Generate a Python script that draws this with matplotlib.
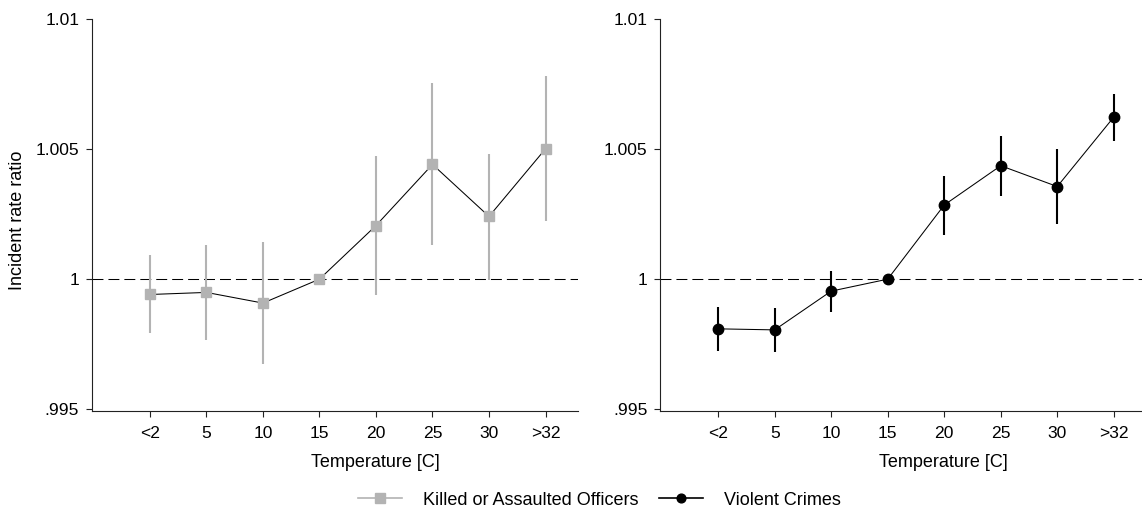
import matplotlib
matplotlib.use("Agg")
import matplotlib.pyplot as plt
from matplotlib.lines import Line2D

plt.rcParams['font.family'] = ['Liberation Sans', 'DejaVu Sans']

# temperature bins
categories = ['<2', '5', '10', '15', '20', '25', '30', '>32']

# killed or assaulted officers (IRR, 95% CI)
officers_irr = [0.99941, 0.99949, 0.99908, 1.0, 1.00206, 1.00441, 1.00241, 1.00501]
officers_lo = [0.99792, 0.99767, 0.99673, 1.0, 0.99938, 1.00132, 0.99997, 1.00222]
officers_hi = [1.00093, 1.00132, 1.00143, 1.0, 1.00474, 1.00754, 1.00482, 1.00781]

# violent crimes (IRR, 95% CI)
violent_irr = [0.99809, 0.99805, 0.99954, 1.0, 1.00285, 1.00436, 1.00356, 1.00623]
violent_lo = [0.99725, 0.99719, 0.99875, 1.0, 1.00170, 1.00320, 1.00212, 1.00532]
violent_hi = [0.99892, 0.99890, 1.00032, 1.0, 1.00398, 1.00551, 1.00501, 1.00713]

yticks = [0.995, 1.0, 1.005, 1.01]
ytick_labels = ['.995', '1', '1.005', '1.01']

gray = '#b3b3b3'
x = list(range(1, len(categories) + 1))

fig = plt.figure(figsize=(11.42, 5.19), dpi=100)
ax1 = fig.add_axes([0.0803, 0.2075, 0.4256, 0.7559])
ax2 = fig.add_axes([0.5779, 0.2075, 0.4256, 0.7559])


def draw_panel(ax, irr, lo, hi, color, marker, ms, show_ylabel):
    # confidence intervals (skip reference bin)
    for xi, l, h in zip(x, lo, hi):
        if h > l:
            ax.plot([xi, xi], [l, h], color=color, lw=1.5, solid_capstyle='butt', zorder=2)
    ax.axhline(1.0, color='black', lw=0.75, ls=(0, (10.5, 4.8)), zorder=1)
    ax.plot(x, irr, color='black', lw=0.75, zorder=3)
    ax.plot(x, irr, ls='none', marker=marker, ms=ms, color=color, mec=color, zorder=4)

    ax.set_xlim(-0.03, 8.57)
    ax.set_ylim(0.99492, 1.01)
    ax.set_xticks(x)
    ax.set_xticklabels(categories)
    ax.set_yticks(yticks)
    ax.set_yticklabels(ytick_labels)
    ax.spines['top'].set_visible(False)
    ax.spines['right'].set_visible(False)
    for s in ['left', 'bottom']:
        ax.spines[s].set_linewidth(0.8)
        ax.spines[s].set_color('#222222')
    ax.tick_params(axis='both', labelsize=12.6, length=4, width=0.8, color='#222222')
    ax.tick_params(axis='x', pad=6.5)
    ax.tick_params(axis='y', pad=5)
    ax.set_xlabel('Temperature [C]', fontsize=13)
    ax.xaxis.set_label_coords((375 - 91.7) / 486, -0.108)
    if show_ylabel:
        ax.set_ylabel('Incident rate ratio', fontsize=13)
        ax.yaxis.set_label_coords(-0.136, 0.488)


draw_panel(ax1, officers_irr, officers_lo, officers_hi, gray, 's', 7.3, True)
draw_panel(ax2, violent_irr, violent_lo, violent_hi, 'black', 'o', 7.5, False)

handles = [
    Line2D([], [], color=gray, lw=1.2, marker='s', ms=7, mec=gray),
    Line2D([], [], color='black', lw=1.2, marker='o', ms=6.3),
]
fig.legend(handles, ['Killed or Assaulted Officers', 'Violent Crimes'],
           loc='center', bbox_to_anchor=(0.5248, 0.0366), ncol=2, frameon=False,
           fontsize=13, handlelength=2.41, handletextpad=1.16, columnspacing=1.16)

fig.savefig('out.png', dpi=100)
